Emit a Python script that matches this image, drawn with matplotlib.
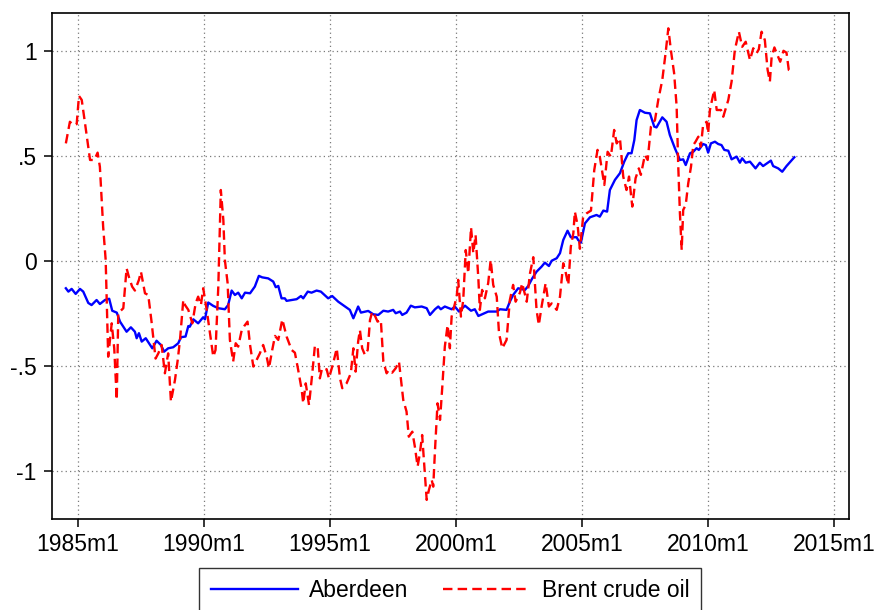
import matplotlib
matplotlib.use("Agg")
import matplotlib.pyplot as plt

# ------------------------------------------------------------
# Data (time as decimal year)
# ------------------------------------------------------------
aber_t = [1984.52, 1984.62, 1984.75, 1984.91, 1985.08, 1985.21, 1985.41, 1985.54,
          1985.74, 1985.87, 1986.07, 1986.24, 1986.36, 1986.54, 1986.67, 1986.93,
          1987.10, 1987.26, 1987.33, 1987.42, 1987.53, 1987.69, 1987.95, 1988.12,
          1988.29, 1988.42, 1988.58, 1988.78, 1988.98, 1989.09, 1989.27, 1989.38,
          1989.44, 1989.58, 1989.77, 1989.97, 1990.04, 1990.17, 1990.37, 1990.57,
          1990.83, 1990.96, 1991.10, 1991.23, 1991.36, 1991.50, 1991.63, 1991.83,
          1992.02, 1992.18, 1992.31, 1992.55, 1992.75, 1992.85, 1992.95, 1993.08,
          1993.21, 1993.28, 1993.48, 1993.68, 1993.85, 1993.94, 1994.12, 1994.27,
          1994.47, 1994.64, 1994.93, 1995.09, 1995.33, 1995.60, 1995.79, 1995.93,
          1996.12, 1996.23, 1996.52, 1996.72, 1996.92, 1997.12, 1997.31, 1997.51,
          1997.61, 1997.78, 1997.87, 1998.04, 1998.21, 1998.37, 1998.64, 1998.84,
          1998.97, 1999.17, 1999.30, 1999.40, 1999.56, 1999.83, 1999.96, 2000.12,
          2000.36, 2000.60, 2000.75, 2000.89, 2001.08, 2001.28, 2001.62, 2001.75,
          2002.01, 2002.14, 2002.27, 2002.47, 2002.74, 2002.87, 2003.03, 2003.20,
          2003.40, 2003.53, 2003.69, 2003.80, 2004.00, 2004.13, 2004.26, 2004.43,
          2004.56, 2004.79, 2004.85, 2004.96, 2005.12, 2005.32, 2005.58, 2005.71,
          2005.85, 2006.00, 2006.11, 2006.31, 2006.51, 2006.68, 2006.84, 2006.97,
          2007.08, 2007.17, 2007.30, 2007.50, 2007.70, 2007.87, 2007.96, 2008.19,
          2008.36, 2008.49, 2008.69, 2008.89, 2009.02, 2009.12, 2009.29, 2009.42,
          2009.55, 2009.64, 2009.81, 2009.92, 2010.01, 2010.12, 2010.28, 2010.41,
          2010.54, 2010.65, 2010.81, 2010.94, 2011.14, 2011.27, 2011.36, 2011.50,
          2011.67, 2011.89, 2012.06, 2012.19, 2012.50, 2012.59, 2012.79, 2012.95,
          2013.12, 2013.43]
aber_v = [-0.130, -0.146, -0.133, -0.157, -0.133, -0.146, -0.200, -0.210,
          -0.186, -0.205, -0.186, -0.180, -0.237, -0.246, -0.289, -0.337,
          -0.316, -0.337, -0.368, -0.344, -0.384, -0.368, -0.416, -0.380,
          -0.400, -0.432, -0.416, -0.411, -0.392, -0.363, -0.360, -0.310,
          -0.313, -0.278, -0.297, -0.268, -0.278, -0.198, -0.214, -0.225,
          -0.230, -0.210, -0.141, -0.162, -0.151, -0.178, -0.151, -0.154,
          -0.122, -0.071, -0.078, -0.083, -0.098, -0.125, -0.119, -0.178,
          -0.178, -0.190, -0.186, -0.182, -0.167, -0.178, -0.146, -0.151,
          -0.141, -0.146, -0.178, -0.167, -0.194, -0.217, -0.233, -0.273,
          -0.217, -0.246, -0.238, -0.254, -0.257, -0.237, -0.241, -0.233,
          -0.249, -0.241, -0.257, -0.246, -0.213, -0.221, -0.217, -0.225,
          -0.257, -0.230, -0.217, -0.230, -0.217, -0.230, -0.217, -0.241,
          -0.213, -0.237, -0.230, -0.262, -0.252, -0.241, -0.241, -0.230,
          -0.233, -0.194, -0.162, -0.130, -0.138, -0.119, -0.083, -0.051,
          -0.027, -0.008, -0.024, 0.001, 0.013, 0.037, 0.100, 0.144,
          0.113, 0.113, 0.100, 0.087, 0.179, 0.208, 0.219, 0.211,
          0.240, 0.235, 0.338, 0.386, 0.418, 0.473, 0.513, 0.513,
          0.576, 0.671, 0.719, 0.706, 0.703, 0.640, 0.636, 0.684,
          0.663, 0.600, 0.537, 0.481, 0.484, 0.457, 0.513, 0.520,
          0.537, 0.529, 0.557, 0.552, 0.516, 0.560, 0.568, 0.557,
          0.552, 0.529, 0.525, 0.484, 0.497, 0.468, 0.489, 0.468,
          0.473, 0.441, 0.468, 0.452, 0.478, 0.452, 0.441, 0.425,
          0.452, 0.494]

brent_t = [1984.52, 1984.68, 1984.81, 1984.95, 1985.04, 1985.15, 1985.28, 1985.48,
           1985.65, 1985.78, 1985.87, 1986.00, 1986.10, 1986.20, 1986.27, 1986.34,
           1986.44, 1986.54, 1986.60, 1986.80, 1986.93, 1987.02, 1987.15, 1987.26,
           1987.42, 1987.50, 1987.66, 1987.79, 1987.92, 1988.08, 1988.19, 1988.32,
           1988.45, 1988.58, 1988.69, 1988.85, 1988.96, 1989.05, 1989.18, 1989.25,
           1989.38, 1989.54, 1989.67, 1989.77, 1989.88, 1989.97, 1990.11, 1990.24,
           1990.37, 1990.46, 1990.57, 1990.63, 1990.67, 1990.77, 1990.83, 1990.94,
           1991.03, 1991.16, 1991.26, 1991.36, 1991.50, 1991.60, 1991.73, 1991.83,
           1991.96, 1992.09, 1992.22, 1992.35, 1992.49, 1992.58, 1992.71, 1992.82,
           1992.95, 1993.11, 1993.28, 1993.48, 1993.61, 1993.74, 1993.88, 1993.94,
           1994.04, 1994.17, 1994.30, 1994.40, 1994.51, 1994.60, 1994.69, 1994.87,
           1994.96, 1995.13, 1995.27, 1995.40, 1995.49, 1995.66, 1995.83, 1995.93,
           1996.02, 1996.12, 1996.19, 1996.28, 1996.39, 1996.50, 1996.59, 1996.68,
           1996.79, 1996.89, 1997.02, 1997.12, 1997.25, 1997.34, 1997.47, 1997.61,
           1997.74, 1997.91, 1998.04, 1998.13, 1998.27, 1998.37, 1998.48, 1998.57,
           1998.66, 1998.74, 1998.84, 1998.93, 1999.04, 1999.10, 1999.17, 1999.27,
           1999.37, 1999.46, 1999.56, 1999.67, 1999.76, 1999.83, 1999.93, 2000.03,
           2000.09, 2000.20, 2000.29, 2000.39, 2000.49, 2000.60, 2000.69, 2000.78,
           2000.89, 2000.95, 2001.04, 2001.15, 2001.28, 2001.38, 2001.48, 2001.62,
           2001.71, 2001.84, 2002.01, 2002.14, 2002.27, 2002.37, 2002.54, 2002.63,
           2002.81, 2002.94, 2003.07, 2003.20, 2003.29, 2003.40, 2003.56, 2003.69,
           2003.80, 2004.00, 2004.13, 2004.26, 2004.35, 2004.46, 2004.56, 2004.66,
           2004.72, 2004.83, 2004.92, 2005.05, 2005.19, 2005.36, 2005.49, 2005.62,
           2005.71, 2005.89, 2006.02, 2006.15, 2006.28, 2006.38, 2006.51, 2006.64,
           2006.77, 2006.87, 2007.00, 2007.13, 2007.26, 2007.34, 2007.50, 2007.61,
           2007.74, 2007.90, 2008.03, 2008.19, 2008.32, 2008.43, 2008.53, 2008.66,
           2008.76, 2008.82, 2008.89, 2008.96, 2009.02, 2009.12, 2009.22, 2009.33,
           2009.42, 2009.51, 2009.62, 2009.72, 2009.81, 2009.95, 2010.01, 2010.08,
           2010.25, 2010.35, 2010.52, 2010.61, 2010.81, 2010.94, 2011.07, 2011.23,
           2011.36, 2011.50, 2011.67, 2011.80, 2011.93, 2012.02, 2012.13, 2012.26,
           2012.37, 2012.46, 2012.53, 2012.64, 2012.73, 2012.87, 2013.00, 2013.12,
           2013.21, 2013.35]
brent_v = [0.560, 0.663, 0.648, 0.652, 0.786, 0.767, 0.656, 0.481,
           0.481, 0.516, 0.449, 0.163, 0.005, -0.456, -0.376, -0.297,
           -0.416, -0.662, -0.249, -0.225, -0.035, -0.075, -0.122, -0.141,
           -0.090, -0.051, -0.154, -0.162, -0.289, -0.465, -0.440, -0.400,
           -0.535, -0.440, -0.670, -0.567, -0.471, -0.376, -0.186, -0.210,
           -0.233, -0.297, -0.202, -0.170, -0.210, -0.130, -0.233, -0.344,
           -0.456, -0.424, -0.122, 0.163, 0.338, 0.195, 0.005, -0.106,
           -0.376, -0.479, -0.392, -0.408, -0.329, -0.310, -0.289, -0.400,
           -0.503, -0.471, -0.440, -0.400, -0.456, -0.511, -0.424, -0.357,
           -0.376, -0.278, -0.360, -0.424, -0.437, -0.519, -0.614, -0.678,
           -0.583, -0.686, -0.535, -0.408, -0.405, -0.559, -0.511, -0.516,
           -0.559, -0.487, -0.416, -0.559, -0.606, -0.583, -0.535, -0.416,
           -0.527, -0.384, -0.329, -0.416, -0.448, -0.424, -0.281, -0.241,
           -0.262, -0.289, -0.281, -0.479, -0.535, -0.519, -0.532, -0.511,
           -0.479, -0.662, -0.717, -0.837, -0.813, -0.884, -0.979, -0.916,
           -0.829, -0.967, -1.138, -1.090, -1.043, -1.075, -0.900, -0.678,
           -0.757, -0.598, -0.408, -0.305, -0.416, -0.265, -0.217, -0.170,
           -0.090, -0.265, -0.186, 0.052, -0.059, 0.160, 0.037, 0.124,
           -0.083, -0.233, -0.138, -0.178, -0.106, 0.005, -0.114, -0.170,
           -0.344, -0.416, -0.376, -0.186, -0.114, -0.194, -0.151, -0.106,
           -0.194, -0.059, 0.018, -0.233, -0.305, -0.217, -0.106, -0.217,
           -0.202, -0.233, -0.170, -0.011, -0.051, -0.114, 0.068, 0.132,
           0.235, 0.170, 0.058, 0.211, 0.227, 0.240, 0.433, 0.529,
           0.497, 0.362, 0.520, 0.497, 0.624, 0.560, 0.584, 0.402,
           0.338, 0.402, 0.259, 0.394, 0.441, 0.410, 0.505, 0.481,
           0.640, 0.671, 0.767, 0.862, 0.989, 1.108, 1.005, 0.894,
           0.735, 0.465, 0.227, 0.052, 0.243, 0.267, 0.370, 0.449,
           0.552, 0.568, 0.592, 0.544, 0.648, 0.663, 0.608, 0.719,
           0.814, 0.719, 0.719, 0.687, 0.767, 0.854, 1.005, 1.092,
           1.020, 1.044, 0.957, 1.013, 0.989, 1.008, 1.092, 1.052,
           0.910, 0.854, 0.973, 1.017, 0.989, 0.949, 1.001, 0.992,
           0.910, 0.901]

x_ticks = [1985, 1990, 1995, 2000, 2005, 2010, 2015]
x_labels = ['1985m1', '1990m1', '1995m1', '2000m1', '2005m1', '2010m1', '2015m1']
y_ticks = [-1, -0.5, 0, 0.5, 1]
y_labels = ['-1', '-.5', '0', '.5', '1']

# ------------------------------------------------------------
# Style (Stata-like)
# ------------------------------------------------------------
plt.rcParams.update({
    'font.family': ['Liberation Sans', 'DejaVu Sans'],
    'font.size': 16.5,
})

fig = plt.figure(figsize=(8.79, 6.10), dpi=100)
ax = fig.add_axes([52 / 879, 1 - 519 / 610, 797 / 879, 506 / 610])

ax.plot(aber_t, aber_v, color='#0000FF', lw=1.7, label='Aberdeen', zorder=3)
ax.plot(brent_t, brent_v, color='#FF0000', lw=1.7, linestyle=(0, (4, 2.2)),
        label='Brent crude oil', zorder=3)

ax.set_xlim(1983.97, 2015.6)
ax.set_ylim(-1.229, 1.181)

ax.set_xticks(x_ticks)
ax.set_xticklabels(x_labels)
ax.set_yticks(y_ticks)
ax.set_yticklabels(y_labels)
ax.tick_params(axis='both', direction='out', length=6, width=1.1, color='black',
               labelsize=16.5)
ax.tick_params(axis='x', pad=4)
ax.tick_params(axis='y', pad=5)

ax.grid(True, color='#7a7a7a', linestyle=(0, (1, 2.5)), lw=0.9, zorder=1)
for s in ax.spines.values():
    s.set_linewidth(1.2)
    s.set_color('black')

leg = fig.legend(loc='upper center', bbox_to_anchor=(450 / 879, 1 - 568 / 610),
                 ncol=2, frameon=True, fancybox=False, edgecolor='black',
                 fontsize=16.5, handlelength=3.8, handletextpad=0.5,
                 columnspacing=1.5, borderpad=0.5, borderaxespad=0)
leg.get_frame().set_linewidth(1.0)

fig.savefig('out.png', dpi=100)
